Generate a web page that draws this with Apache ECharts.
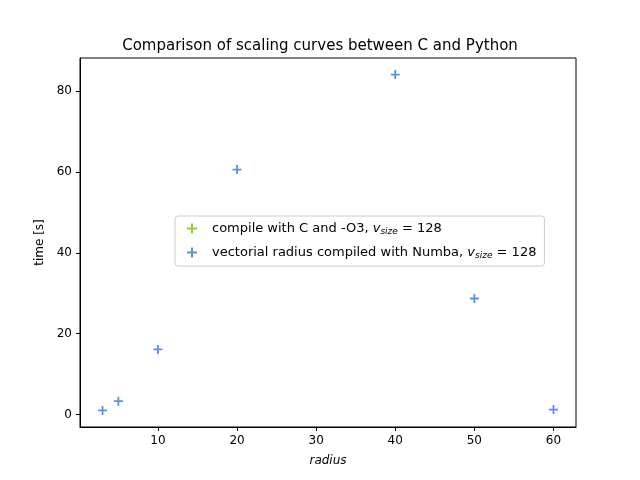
<!DOCTYPE html>
<html lang="en">
<head>
    <meta charset="UTF-8">
    <title>scaling curves</title>
    <style>* { margin: 0; padding: 0; }</style>
    <script src="https://cdn.jsdelivr.net/npm/echarts@6/dist/echarts.min.js"></script>
</head>
<body>
    <div id="echart" style="width: 640px;height: 480px;"></div>
    <script>
        // radius -> time [s]
        var radiusC = []
        var timeC = []
        var radiusNumba = [3, 5, 10, 20, 40, 50, 60]
        var timeNumba = [1.0, 3.3, 16.1, 60.6, 84.1, 28.7, 1.2]
        var xTicks = [10, 20, 30, 40, 50, 60]
        var yTicks = [0, 20, 40, 60, 80]

        var nameC = 'compile with C and -O3'
        var nameNumba = 'vectorial radius compiled with Numba'
        var plus = 'path://M4,0h2v4h4v2h-4v4h-2v-4h-4v-2h4z'

        function pairs(xs, ys) {
            return xs.map((x, i) => [x, ys[i]])
        }

        var axisCommon = {
            type: 'value',
            axisLine: { show: true, onZero: false, lineStyle: { color: '#000' } },
            axisTick: { show: true, inside: false, length: 4, lineStyle: { color: '#000' } },
            axisLabel: { color: '#000', fontSize: 12, fontFamily: 'DejaVu Sans' },
            splitLine: { show: false }
        }

        var echart = echarts.init(document.getElementById('echart'))
        var option = {
            animation: false,
            title: {
                text: 'Comparison of scaling curves between C and Python',
                left: 'center', top: 34,
                textStyle: { fontSize: 15, fontWeight: 'normal', color: '#000', fontFamily: 'DejaVu Sans' }
            },
            grid: { left: 80, right: 64, top: 58, bottom: 53, show: true, borderColor: '#000', borderWidth: 1 },
            legend: {
                orient: 'vertical', left: 175, top: 216,
                data: [nameC, nameNumba],
                itemWidth: 10, itemHeight: 10, itemGap: 10,
                padding: [6, 8, 6, 12], borderColor: '#ccc', borderWidth: 1, borderRadius: 3,
                backgroundColor: 'rgba(255,255,255,0.8)',
                formatter: n => '{g|}' + n + ', {i|v}{s|size}{n| = 128}',
                textStyle: {
                    fontSize: 13, color: '#000', fontFamily: 'DejaVu Sans',
                    rich: {
                        g: { width: 10 },
                        i: { fontStyle: 'italic', fontSize: 13, fontFamily: 'DejaVu Sans' },
                        s: { fontStyle: 'italic', fontSize: 9, verticalAlign: 'bottom', padding: [6, 0, 0, 0], fontFamily: 'DejaVu Sans' },
                        n: { fontSize: 13, fontFamily: 'DejaVu Sans' }
                    }
                }
            },
            xAxis: Object.assign({}, axisCommon, {
                min: 0.15, max: 62.85,
                name: 'radius', nameLocation: 'middle', nameGap: 28,
                nameTextStyle: { fontStyle: 'italic', fontSize: 12, color: '#000', fontFamily: 'DejaVu Sans' },
                axisTick: Object.assign({}, axisCommon.axisTick, { customValues: xTicks }),
                axisLabel: Object.assign({}, axisCommon.axisLabel, { customValues: xTicks })
            }),
            yAxis: Object.assign({}, axisCommon, {
                min: -3.1, max: 88.2,
                name: 'time [s]', nameLocation: 'middle', nameGap: 34,
                nameTextStyle: { fontSize: 12, color: '#000', fontFamily: 'DejaVu Sans' },
                axisTick: Object.assign({}, axisCommon.axisTick, { customValues: yTicks }),
                axisLabel: Object.assign({}, axisCommon.axisLabel, { customValues: yTicks })
            }),
            series: [{
                name: nameC, type: 'scatter', symbol: plus, symbolSize: 9,
                itemStyle: { color: '#9acd32', opacity: 1 },
                data: pairs(radiusC, timeC)
            }, {
                name: nameNumba, type: 'scatter', symbol: plus, symbolSize: 9,
                itemStyle: { color: '#5b8fe8', opacity: 1 },
                data: pairs(radiusNumba, timeNumba)
            }]
        }
        echart.setOption(option)
    </script>
</body>
</html>
